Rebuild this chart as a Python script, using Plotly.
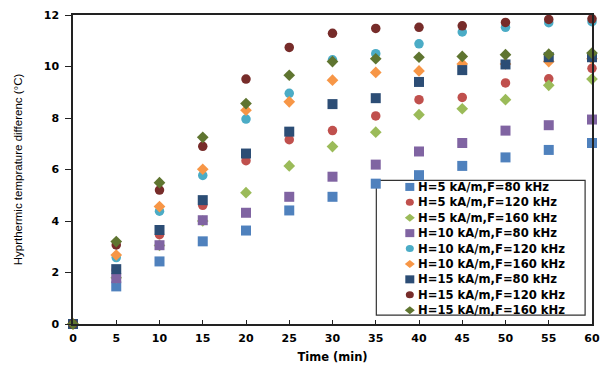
import plotly.graph_objects as go

time_min = [0, 5, 10, 15, 20, 25, 30, 35, 40, 45, 50, 55, 60]

series_names = [
    "H=5 kA/m,F=80 kHz", "H=5 kA/m,F=120 kHz", "H=5 kA/m,F=160 kHz",
    "H=10 kA/m,F=80 kHz", "H=10 kA/m,F=120 kHz", "H=10 kA/m,F=160 kHz",
    "H=15 kA/m,F=80 kHz", "H=15 kA/m,F=120 kHz", "H=15 kA/m,F=160 kHz",
]

h5_f80 = [0, 1.46, 2.43, 3.21, 3.63, 4.41, 4.94, 5.45, 5.78, 6.14, 6.47, 6.76, 7.03]
h5_f120 = [0, 2.10, 3.47, 4.61, 6.34, 7.16, 7.51, 8.08, 8.71, 8.80, 9.36, 9.52, 9.93]
h5_f160 = [0, 1.80, 3.05, 4.00, 5.10, 6.14, 6.89, 7.45, 8.13, 8.36, 8.71, 9.27, 9.51]
h10_f80 = [0, 1.78, 3.06, 4.03, 4.32, 4.94, 5.72, 6.19, 6.70, 7.03, 7.51, 7.72, 7.94]
h10_f120 = [0, 2.58, 4.38, 5.77, 7.96, 8.96, 10.26, 10.50, 10.88, 11.34, 11.52, 11.70, 11.74]
h10_f160 = [0, 2.68, 4.56, 6.01, 8.30, 8.63, 9.47, 9.77, 9.83, 10.10, 10.10, 10.19, 10.30]
h15_f80 = [0, 2.13, 3.65, 4.81, 6.62, 7.47, 8.54, 8.77, 9.40, 9.86, 10.08, 10.36, 10.36]
h15_f120 = [0, 3.07, 5.20, 6.90, 9.51, 10.74, 11.29, 11.48, 11.52, 11.58, 11.71, 11.83, 11.85]
h15_f160 = [0, 3.20, 5.49, 7.25, 8.56, 9.66, 10.19, 10.30, 10.36, 10.39, 10.46, 10.48, 10.52]

values = [h5_f80, h5_f120, h5_f160, h10_f80, h10_f120, h10_f160, h15_f80, h15_f120, h15_f160]
colors = ["#4F81BD", "#C0504D", "#9BBB59", "#8064A2", "#4BACC6", "#F79646",
          "#2C4D75", "#772C2A", "#5F7530"]
symbols = ["square", "circle", "diamond"] * 3
sizes = {"square": 10, "circle": 9.5, "diamond": 9}

W, H = 608, 370
ML, MR, MT, MB = 73, 8, 15, 45
PW, PH = W - ML - MR, H - MT - MB

def px_to_paper(px, py):
    return (px - ML) / PW, (H - MB - py) / PH

fig = go.Figure()
for name, vals, col, sym in zip(series_names, values, colors, symbols):
    fig.add_trace(go.Scatter(
        x=time_min, y=vals, mode="markers", name=name,
        marker=dict(symbol=sym, size=sizes[sym], color=col, line=dict(width=0)),
        cliponaxis=False, showlegend=False,
    ))

# manual legend (box below the markers, like the original)
shapes = []
annotations = []
bx0, by0 = px_to_paper(381, 316)
bx1, by1 = px_to_paper(593, 181)
shapes.append(dict(type="rect", xref="paper", yref="paper", x0=bx0, y0=by0, x1=bx1, y1=by1,
                   line=dict(color="#333333", width=1.2), fillcolor="white", layer="below"))
first_y, step = 187.5, 15.45
sym_x = 415
for i, (name, col, sym) in enumerate(zip(series_names, colors, symbols)):
    yc = first_y + i * step
    ax, ay = px_to_paper(sym_x, yc)
    base = dict(xref="paper", yref="paper", xsizemode="pixel", ysizemode="pixel",
                xanchor=ax, yanchor=ay, fillcolor=col, line=dict(width=0), layer="below")
    if sym == "square":
        shapes.append(dict(type="rect", x0=-4.5, x1=4.5, y0=-4, y1=4, **base))
    elif sym == "circle":
        shapes.append(dict(type="circle", x0=-4, x1=4, y0=-3.5, y1=3.5, **base))
    else:
        shapes.append(dict(type="path", path="M -5 0 L 0 4 L 5 0 L 0 -4 Z", **base))
    tx, ty = px_to_paper(421, yc)
    annotations.append(dict(xref="paper", yref="paper", x=tx, y=ty, xanchor="left",
                            yanchor="middle", text=name, showarrow=False,
                            font=dict(family="DejaVu Sans", size=11.6, color="black", weight="bold")))

tick_font = dict(family="DejaVu Sans", size=11, color="black", weight="bold")

fig.update_layout(
    width=W, height=H,
    margin=dict(l=ML, r=MR, t=MT, b=MB),
    paper_bgcolor="white", plot_bgcolor="white",
    shapes=shapes, annotations=annotations,
    showlegend=False,
    xaxis=dict(
        range=[0, 60], tickmode="array", tickvals=list(range(0, 61, 5)),
        ticks="inside", ticklen=4, tickwidth=1, tickcolor="#222",
        showline=True, linecolor="#222", linewidth=1.5, mirror=True,
        showgrid=False, zeroline=False, tickfont=tick_font, ticklabelstandoff=3,
        title=dict(text="Time (min)", standoff=9,
                   font=dict(family="DejaVu Sans", size=11.5, color="black", weight="bold")),
    ),
    yaxis=dict(
        range=[0, 12], tickmode="array", tickvals=list(range(0, 13, 2)),
        ticks="outside", ticklen=6, tickwidth=1, tickcolor="#222",
        showline=True, linecolor="#222", linewidth=1.5, mirror=True,
        showgrid=False, zeroline=False, tickfont=tick_font, ticklabelstandoff=4,
        title=dict(text="Hyprthermic temprature differenc (°C)", standoff=19,
                   font=dict(family="Liberation Sans, Arial", size=11.5, color="black")),
    ),
)

fig.write_html("out.html")
